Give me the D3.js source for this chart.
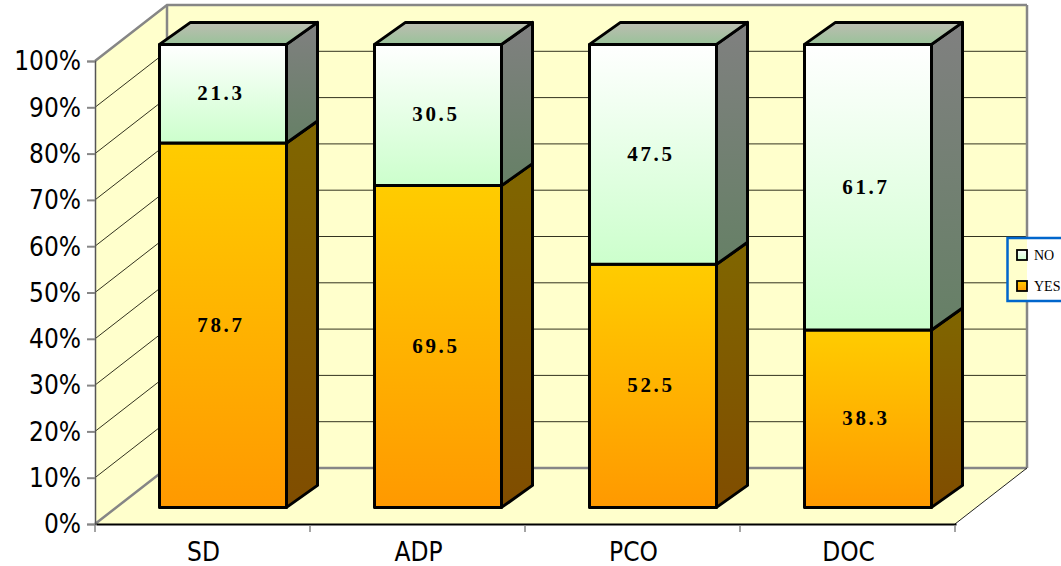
<!DOCTYPE html>
<html>
<head>
<meta charset="utf-8">
<script src="https://cdn.jsdelivr.net/npm/d3@7"></script>
<style>
  html, body { margin: 0; padding: 0; background: #fff; }
  svg { display: block; }
</style>
</head>
<body>
<svg id="chart" width="1061" height="566"></svg>
<script>
// Percent split of answers per group
const categories = ["SD", "ADP", "PCO", "DOC"];
const yesValues = [78.7, 69.5, 52.5, 38.3];
const noValues = [21.3, 30.5, 47.5, 61.7];
const percentTicks = [0, 10, 20, 30, 40, 50, 60, 70, 80, 90, 100];
const legendEntries = ["NO", "YES"];

const svg = d3.select("#chart");
const defs = svg.append("defs");

// Front plane of the box and the oblique depth of the walls and of the bars
const x = d3.scaleBand().domain(categories).range([95, 955]);
const y = d3.scaleLinear().domain([0, 100]).range([524, 61]);
const wallDepth = { dx: 72, dy: -56 };
const barInset = { dx: 20.5, dy: -16.6 };
const barDepth = { dx: 31, dy: -22 };
const barWidth = 127;

const wallFill = "#FFFFCC";
const wallEdge = "#868686";
const line = d3.line();

function gradient(id, top, bottom) {
  const g = defs.append("linearGradient").attr("id", id)
    .attr("x1", 0).attr("y1", 0).attr("x2", 0).attr("y2", 1);
  g.append("stop").attr("offset", 0).attr("stop-color", top);
  g.append("stop").attr("offset", 1).attr("stop-color", bottom);
}
gradient("yesFront", "#FFCC00", "#FF9900");
gradient("yesSide", "#806600", "#804D00");
gradient("noFront", "#FFFFFF", "#CCFFCC");
gradient("noSide", "#808080", "#668066");
gradient("noTop", "#BDBDB2", "#99C299");

// Walls and floor
const x0 = x.range()[0], x1 = x.range()[1], y0 = y(0), y100 = y(100);
const back = (px, py) => [px + wallDepth.dx, py + wallDepth.dy];
const walls = svg.append("g");
walls.append("path").attr("fill", wallFill)
  .attr("d", line([[x0, y0], [x0, y100], back(x0, y100), back(x1, y100), back(x1, y0), [x1, y0]]) + "Z");

// Gridlines run along the left wall and across the back wall
const gridColor = t => (t === 0 || t === 100) ? wallEdge : "#33331f";
const gridWidth = t => (t === 0 || t === 100) ? 2.5 : 1;
walls.selectAll("path.grid").data(percentTicks).join("path")
  .attr("class", "grid").attr("fill", "none")
  .attr("stroke", gridColor).attr("stroke-width", gridWidth)
  .attr("d", t => line([[x0, y(t)], back(x0, y(t)), back(x1, y(t))]));
walls.append("path").attr("fill", "none").attr("stroke", wallEdge).attr("stroke-width", 2.5)
  .attr("d", line([back(x0, y0), back(x0, y100)]) + line([back(x1, y100), back(x1, y0)]));
walls.append("path").attr("fill", "none").attr("stroke", "#222").attr("stroke-width", 1)
  .attr("d", line([[x1, y0], back(x1, y0)]));

// Axes
const axisFont = "'DejaVu Sans', sans-serif";
const yAxis = svg.append("g").attr("transform", `translate(${x0},0)`)
  .call(d3.axisLeft(y).tickValues(percentTicks).tickFormat(d => d + "%").tickSize(8).tickPadding(6));
yAxis.select(".domain").attr("stroke", "#555").attr("stroke-width", 1.5);
yAxis.selectAll(".tick line").attr("stroke", wallEdge).attr("stroke-width", 2);
yAxis.selectAll("text").attr("fill", "#000").attr("font-family", axisFont)
  .attr("font-size", 26).attr("font-stretch", "condensed").attr("dy", "0.34em");

const xAxis = svg.append("g").attr("transform", `translate(1,${y0})`)
  .call(d3.axisBottom(x).tickSize(0).tickPadding(19));
xAxis.select(".domain").attr("stroke", "#000").attr("stroke-width", 2);
xAxis.selectAll("text").attr("fill", "#000").attr("font-family", axisFont)
  .attr("font-size", 26).attr("font-stretch", "condensed");
svg.append("g").selectAll("line").data(d3.range(categories.length + 1)).join("line")
  .attr("x1", i => x0 + i * x.step()).attr("x2", i => x0 + i * x.step())
  .attr("y1", y0 + 1).attr("y2", y0 + 8)
  .attr("stroke", wallEdge).attr("stroke-width", 1.5);

// Stacked bars, drawn with an oblique side and cap
const stacked = d3.stack().keys(["yes", "no"])(
  categories.map((c, i) => ({ cat: c, yes: yesValues[i], no: noValues[i] }))
);
const barLeft = c => x(c) + barInset.dx + (x.bandwidth() - barWidth) / 2;
const barY = v => y(v) + barInset.dy;

stacked.forEach((layer, li) => {
  const front = li === 0 ? "url(#yesFront)" : "url(#noFront)";
  const side = li === 0 ? "url(#yesSide)" : "url(#noSide)";
  const g = svg.append("g");
  layer.forEach(seg => {
    const c = seg.data.cat;
    const l = barLeft(c), r = l + barWidth, lo = barY(seg[0]), hi = barY(seg[1]);
    const b = g.append("g");
    b.append("path").attr("fill", side)
      .attr("d", line([[r, lo], [r, hi], [r + barDepth.dx, hi + barDepth.dy], [r + barDepth.dx, lo + barDepth.dy]]) + "Z");
    if (li === 1) {
      b.append("path").attr("fill", "url(#noTop)")
        .attr("d", line([[l, hi], [l + barDepth.dx, hi + barDepth.dy], [r + barDepth.dx, hi + barDepth.dy], [r, hi]]) + "Z");
    }
    b.append("path").attr("fill", front)
      .attr("d", line([[l, lo], [l, hi], [r, hi], [r, lo]]) + "Z");
    b.selectAll("path").attr("stroke", "#000").attr("stroke-width", 3).attr("stroke-linejoin", "round");
    b.append("text")
      .attr("x", (l + r) / 2).attr("y", (lo + hi) / 2).attr("dx", -2).attr("dy", "0.3em")
      .attr("text-anchor", "middle")
      .attr("font-family", "'Liberation Serif', serif").attr("font-weight", "bold")
      .attr("font-size", 21).attr("letter-spacing", 2.7).attr("fill", "#000")
      .text((li === 0 ? yesValues : noValues)[categories.indexOf(c)].toFixed(1));
  });
});

// Legend box, overlapping the right edge of the wall and running off the page
const legend = svg.append("g");
legend.append("rect").attr("x", 1007.5).attr("y", 238).attr("width", 70).attr("height", 63)
  .attr("fill", "#fff");
legend.append("rect").attr("x", 1007.5).attr("y", 238).attr("width", 19.5).attr("height", 63)
  .attr("fill", wallFill);
legend.append("rect").attr("x", 1007.5).attr("y", 238).attr("width", 70).attr("height", 63)
  .attr("fill", "none").attr("stroke", "#0066CC").attr("stroke-width", 2.5);
const legendY = d3.scalePoint().domain(legendEntries).range([255, 286]);
const swatch = { NO: "url(#noFront)", YES: "url(#yesFront)" };
legend.selectAll("rect.swatch").data(legendEntries).join("rect")
  .attr("class", "swatch")
  .attr("x", 1017).attr("y", d => legendY(d) - 5).attr("width", 10).attr("height", 10)
  .attr("fill", d => swatch[d]).attr("stroke", "#000").attr("stroke-width", 1.8);
legend.selectAll("text").data(legendEntries).join("text")
  .attr("x", 1034).attr("y", d => legendY(d)).attr("dy", "0.35em")
  .attr("font-family", "'Liberation Serif', serif").attr("font-size", 14).attr("fill", "#000")
  .text(d => d);
</script>
</body>
</html>
